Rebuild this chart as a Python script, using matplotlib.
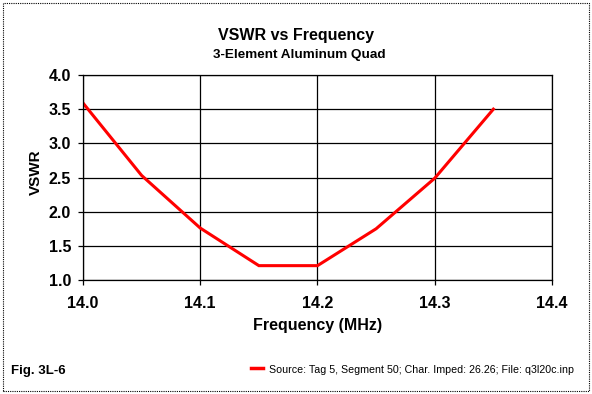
import matplotlib
matplotlib.use("Agg")
import matplotlib.pyplot as plt
from matplotlib.patches import Rectangle

freq = [14.00, 14.05, 14.10, 14.15, 14.20, 14.25, 14.30, 14.35]
vswr = [3.59, 2.53, 1.76, 1.21, 1.21, 1.75, 2.49, 3.50]
x_ticks = [14.0, 14.1, 14.2, 14.3, 14.4]
y_ticks = [1.0, 1.5, 2.0, 2.5, 3.0, 3.5, 4.0]

title = "VSWR vs Frequency"
subtitle = "3-Element Aluminum Quad"
xlabel = "Frequency (MHz)"
ylabel = "VSWR"
legend_label = "Source: Tag 5, Segment 50; Char. Imped: 26.26; File: q3l20c.inp"
fig_label = "Fig. 3L-6"

plt.rcParams['font.family'] = ['Liberation Sans', 'DejaVu Sans']

W, H = 592, 394
fig = plt.figure(figsize=(W / 100, H / 100), dpi=100)
fig.patch.set_facecolor("white")

ax = fig.add_axes([83 / W, 1 - 280 / H, (552 - 83) / W, (280 - 75) / H])
ax.plot(freq, vswr, color="#ff0000", lw=2.2, solid_joinstyle="miter")
ax.set_xlim(14.0, 14.4)
ax.set_ylim(1.0, 4.0)
ax.set_xticks(x_ticks)
ax.set_yticks(y_ticks)
ax.set_xticklabels([f"{v:.1f}" for v in x_ticks], fontsize=11.5, fontweight="bold")
ax.set_yticklabels([f"{v:.1f}" for v in y_ticks], fontsize=11.5, fontweight="bold")
ax.grid(True, color="black", lw=0.9)
ax.set_axisbelow(True)
for s in ax.spines.values():
    s.set_color("black")
    s.set_linewidth(0.9)
ax.tick_params(axis="both", direction="out", length=3.5, width=0.9, color="black")
ax.tick_params(axis="x", pad=8)
ax.tick_params(axis="y", pad=5)

def fx(px):
    return px / W

def fy(py):
    return 1 - py / H

fig.text(fx(318), fy(330), xlabel, ha="center", va="baseline", fontsize=11.5, fontweight="bold")
fig.text(fx(36), fy(172.5), ylabel, ha="center", va="center", rotation=90,
         fontsize=11, fontweight="bold")

fig.text(fx(295.5), fy(40), title, ha="center", va="baseline", fontsize=11.5, fontweight="bold")
fig.text(fx(299), fy(58), subtitle, ha="center", va="baseline", fontsize=9.7, fontweight="bold")
fig.text(fx(11), fy(374), fig_label, ha="left", va="baseline", fontsize=9.5, fontweight="bold")

fig.lines.append(plt.Line2D([fx(251), fx(263)], [fy(368.3), fy(368.3)],
                            transform=fig.transFigure, color="#ff0000", lw=2.5))
fig.text(fx(269), fy(372.7), legend_label, ha="left", va="baseline", fontsize=7.7)

fig.patches.append(Rectangle((3 / W, 3 / H), 586 / W, 388 / H, transform=fig.transFigure,
                             fill=False, edgecolor="black", lw=0.8, linestyle=(0, (1, 1))))

fig.savefig("out.png", dpi=100, facecolor="white")
